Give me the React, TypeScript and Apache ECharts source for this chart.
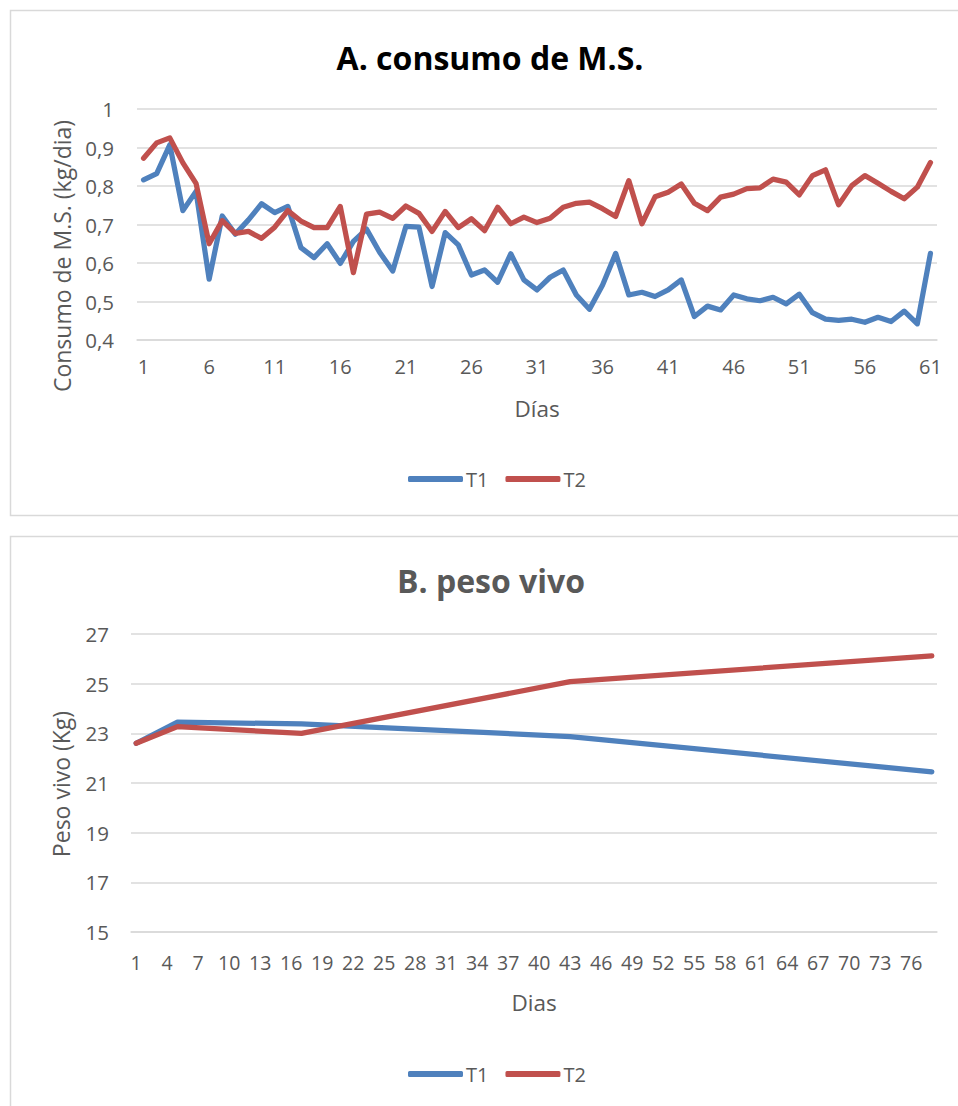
import React, { useEffect, useRef } from "react";
import * as echarts from "echarts";

// Daily dry-matter intake (kg/day), days 1..61
const diasConsumo = Array.from({ length: 61 }, (_, i) => String(i + 1));
const consumoT1 = [
  0.816, 0.832, 0.907, 0.736, 0.786, 0.558, 0.722, 0.675, 0.712, 0.754,
  0.731, 0.747, 0.640, 0.614, 0.650, 0.599, 0.656, 0.688, 0.628, 0.579,
  0.695, 0.693, 0.539, 0.679, 0.647, 0.569, 0.582, 0.550, 0.624, 0.556,
  0.530, 0.563, 0.582, 0.517, 0.480, 0.543, 0.625, 0.517, 0.524, 0.513,
  0.530, 0.556, 0.461, 0.488, 0.478, 0.517, 0.507, 0.502, 0.511, 0.494,
  0.519, 0.471, 0.454, 0.451, 0.454, 0.446, 0.459, 0.448, 0.475, 0.442,
  0.625,
];
const consumoT2 = [
  0.872, 0.912, 0.925, 0.860, 0.807, 0.650, 0.710, 0.677, 0.682, 0.664,
  0.693, 0.736, 0.709, 0.692, 0.692, 0.747, 0.575, 0.727, 0.732, 0.716,
  0.748, 0.729, 0.682, 0.734, 0.692, 0.715, 0.684, 0.745, 0.702, 0.719,
  0.705, 0.716, 0.745, 0.755, 0.758, 0.741, 0.721, 0.814, 0.702, 0.772,
  0.784, 0.805, 0.755, 0.736, 0.771, 0.779, 0.793, 0.795, 0.818, 0.810,
  0.777, 0.827, 0.842, 0.751, 0.801, 0.827, 0.807, 0.786, 0.767, 0.797,
  0.861,
];

// Live weight (kg), weighed on the listed days of a 78-day trial
const diasPeso = Array.from({ length: 78 }, (_, i) => String(i + 1));
const diasPesaje = [1, 5, 17, 43, 78];
const pesoT1 = [22.6, 23.45, 23.38, 22.87, 21.45];
const pesoT2 = [22.6, 23.27, 23.0, 25.08, 26.12];

const FONT = '"Open Sans", "Noto Sans", sans-serif';
const GRAY = "#595959";
const GRID = "#D9D9D9";
const BLUE = "#4F81BD";
const RED = "#C0504D";

function onWeighDays(values: number[]): (number | null)[] {
  const out: (number | null)[] = diasPeso.map(() => null);
  diasPesaje.forEach((d, k) => {
    out[d - 1] = values[k];
  });
  return out;
}

const decimalComma = (v: number) => String(Math.round(v * 10) / 10).replace(".", ",");

export default function App() {
  const ref = useRef<HTMLDivElement>(null);

  useEffect(() => {
    if (!ref.current) return;
    const chart = echarts.init(ref.current, undefined, { renderer: "svg" });

    const lineSeries = (name: string, color: string, data: (number | null)[], idx: number) => ({
      name,
      type: "line",
      xAxisIndex: idx,
      yAxisIndex: idx,
      data,
      symbol: "none",
      showSymbol: false,
      connectNulls: true,
      z: 3,
      lineStyle: { color, width: 5.25, cap: "round", join: "round" },
      itemStyle: { color },
    });

    const legend = (top: number) => ({
      left: 403,
      top,
      icon: "roundRect",
      itemWidth: 55,
      itemHeight: 6,
      itemGap: 17,
      data: ["T1", "T2"],
      textStyle: { fontSize: 20, color: GRAY, fontFamily: FONT, padding: [0, 0, 0, -2] },
    });

    const text = (
      x: number,
      y: number,
      t: string,
      font: string,
      fill: string,
      rotation = 0
    ) => ({
      type: "text",
      x,
      y,
      rotation,
      style: {
        text: t,
        font,
        fill,
        textAlign: "center",
        textVerticalAlign: "middle",
        align: "center",
        verticalAlign: "middle",
      },
    });

    chart.setOption({
      animation: false,
      backgroundColor: "#ffffff",
      textStyle: { fontFamily: FONT },
      grid: [
        { left: 137, right: 21, top: 109, height: 231, containLabel: false, outerBoundsMode: "none" },
        { left: 131, right: 21, top: 634, height: 298, containLabel: false, outerBoundsMode: "none" },
      ],
      legend: [legend(464), legend(1059)],
      xAxis: [
        {
          gridIndex: 0,
          type: "category",
          data: diasConsumo,
          boundaryGap: true,
          axisTick: { show: false },
          axisLine: { show: true, lineStyle: { color: GRID, width: 1.5 } },
          axisLabel: { interval: 4, color: GRAY, fontSize: 20, fontFamily: FONT, margin: 16 },
        },
        {
          gridIndex: 1,
          type: "category",
          data: diasPeso,
          boundaryGap: true,
          axisTick: { show: false },
          axisLine: { show: true, lineStyle: { color: GRID, width: 1.5 } },
          axisLabel: { interval: 2, color: GRAY, fontSize: 19.5, fontFamily: FONT, margin: 20 },
        },
      ],
      yAxis: [
        {
          gridIndex: 0,
          type: "value",
          min: 0.4,
          max: 1,
          interval: 0.1,
          axisLine: { show: false },
          axisTick: { show: false },
          splitLine: { lineStyle: { color: GRID, width: 1.5 } },
          axisLabel: { formatter: decimalComma, color: GRAY, fontSize: 20.5, fontFamily: FONT, margin: 23 },
        },
        {
          gridIndex: 1,
          type: "value",
          min: 15,
          max: 27,
          interval: 2,
          axisLine: { show: false },
          axisTick: { show: false },
          splitLine: { lineStyle: { color: GRID, width: 1.5 } },
          axisLabel: { color: GRAY, fontSize: 20.5, fontFamily: FONT, margin: 22 },
        },
      ],
      series: [
        lineSeries("T1", BLUE, consumoT1, 0),
        lineSeries("T2", RED, consumoT2, 0),
        lineSeries("T1", BLUE, onWeighDays(pesoT1), 1),
        lineSeries("T2", RED, onWeighDays(pesoT2), 1),
      ],
      graphic: [
        {
          type: "rect",
          z: -1,
          shape: { x: 10.5, y: 10.5, width: 960, height: 505 },
          style: { fill: "none", stroke: GRID, lineWidth: 1.5 },
        },
        {
          type: "rect",
          z: -1,
          shape: { x: 10.5, y: 536.5, width: 960, height: 600 },
          style: { fill: "none", stroke: GRID, lineWidth: 1.5 },
        },
        text(490, 57, "A. consumo de M.S.", `bold 32px ${FONT}`, "#000000"),
        text(491, 580, "B. peso vivo", `bold 32px ${FONT}`, GRAY),
        text(62, 256, "Consumo de M.S. (kg/dia)", `23px ${FONT}`, GRAY, Math.PI / 2),
        text(61, 784, "Peso vivo (Kg)", `23px ${FONT}`, GRAY, Math.PI / 2),
        text(537, 408, "Días", `22.5px ${FONT}`, GRAY),
        text(534, 1002, "Dias", `22.5px ${FONT}`, GRAY),
      ],
    });

    return () => chart.dispose();
  }, []);

  return (
    <div
      ref={ref}
      style={{ position: "absolute", left: 0, top: 0, width: 958, height: 1106 }}
    />
  );
}
